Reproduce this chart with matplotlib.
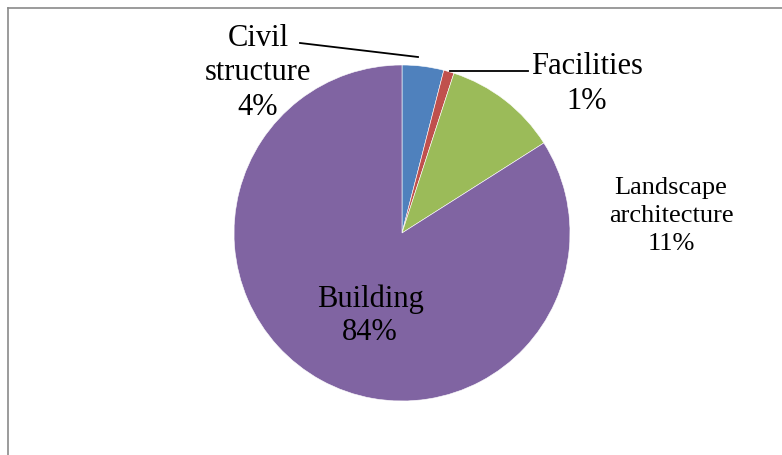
import matplotlib.pyplot as plt
from matplotlib.lines import Line2D

# --- Dados ---
categorias = ['Civil structure', 'Facilities', 'Landscape architecture', 'Building']
percentuais = [4, 1, 11, 84]
cores = ['#4F81BD', '#C0504D', '#9BBB59', '#8064A2']

W, H = 782, 456
fig = plt.figure(figsize=(W / 100, H / 100), dpi=100)
ax = fig.add_axes([0, 0, 1, 1])

# pizza no sentido horario a partir das 12h (eixo y invertido -> counterclock=True)
wedges, _ = ax.pie(percentuais, colors=cores, startangle=-90, counterclock=True,
                   center=(402, 234), radius=168, frame=True,
                   wedgeprops=dict(linewidth=0.4, edgecolor='white'))
ax.set_xlim(0, W)
ax.set_ylim(H, 0)
ax.set_aspect('equal')
ax.axis('off')

fonte = 'Liberation Serif'
ax.text(258, 73, 'Civil\nstructure\n4%', ha='center', va='center',
        fontsize=22, family=fonte, linespacing=1.25)
ax.text(587, 84, 'Facilities\n1%', ha='center', va='center',
        fontsize=22, family=fonte, linespacing=1.25)
ax.text(671, 216, 'Landscape\narchitecture\n11%', ha='center', va='center',
        fontsize=19, family=fonte, linespacing=1.36)
ax.text(370, 316, 'Building\n84%', ha='center', va='center',
        fontsize=22, family=fonte, linespacing=1.2)

# linhas de chamada
ax.plot([300, 418], [44, 58], color='black', lw=1.3)
ax.plot([450, 528], [72, 72], color='black', lw=1.3)

# moldura do grafico
fig.add_artist(Line2D([7.5 / W, 7.5 / W], [0, 1 - 8.5 / H], color='#8a8a8a', lw=1.2))
fig.add_artist(Line2D([7.5 / W, 1], [1 - 8.5 / H, 1 - 8.5 / H], color='#8a8a8a', lw=1.2))

fig.savefig('out.png', dpi=100)
